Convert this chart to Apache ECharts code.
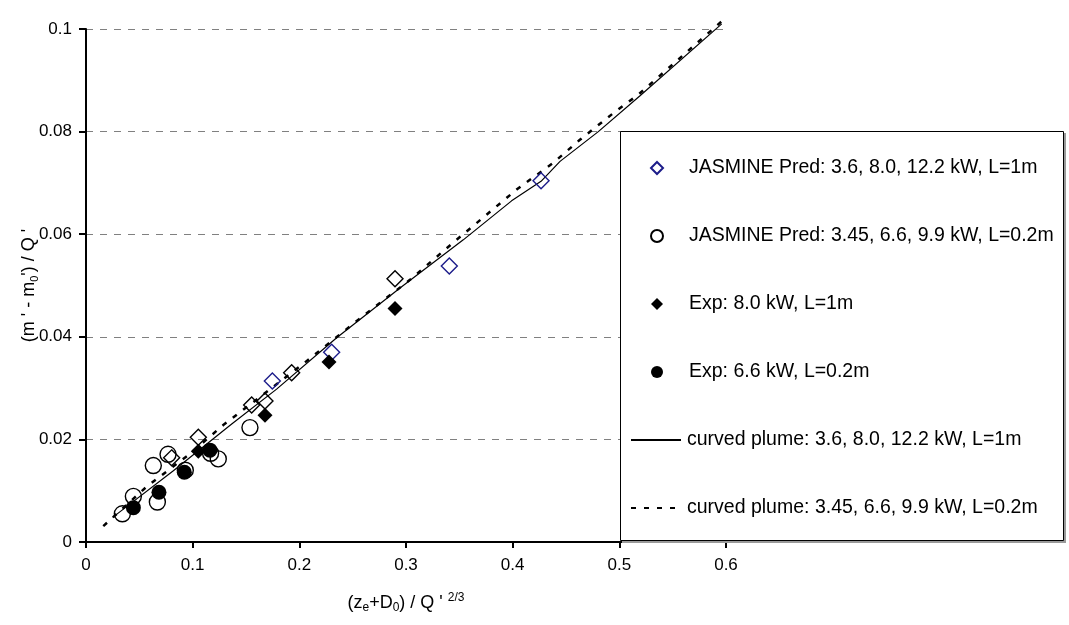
<!DOCTYPE html>
<html><head><meta charset="utf-8">
<script src="https://cdn.jsdelivr.net/npm/echarts@6/dist/echarts.min.js"></script>
<style>html,body{margin:0;padding:0;background:#fff}#c{width:1069px;height:625px}</style>
</head><body><div id="c"></div>
<script>
// ---- data ----
const legendNames = [
  'JASMINE Pred: 3.6, 8.0, 12.2 kW, L=1m',
  'JASMINE Pred: 3.45, 6.6, 9.9 kW, L=0.2m',
  'Exp: 8.0 kW, L=1m',
  'Exp: 6.6 kW, L=0.2m',
  'curved plume: 3.6, 8.0, 12.2 kW, L=1m',
  'curved plume: 3.45, 6.6, 9.9 kW, L=0.2m'
];
const jasmine1mBlue = [[0.1747,0.0314],[0.2303,0.0370],[0.3406,0.0538],[0.4266,0.0704]];
const jasmine1mBlack = [[0.0803,0.0164],[0.1053,0.0204],[0.1553,0.0267],[0.1678,0.0275],[0.1928,0.0330],[0.2897,0.0513]];
const jasmine02m = [[0.0341,0.0055],[0.0444,0.0089],[0.0669,0.0078],[0.0631,0.0149],[0.0769,0.0171],[0.0931,0.0140],[0.1168,0.0173],[0.1240,0.0162],[0.1537,0.0223]];
const exp1m = [[0.1053,0.0177],[0.1678,0.0247],[0.2278,0.0351],[0.2897,0.0455]];
const exp02m = [[0.0444,0.0067],[0.0684,0.0097],[0.0922,0.0136],[0.1162,0.0179]];
const plume1m = [[0.025,0.0048],[0.0819,0.0139],[0.1366,0.0230],[0.1787,0.0298],[0.2350,0.0398],[0.2944,0.0495],[0.3537,0.0589],[0.3990,0.0665],[0.4266,0.0703],[0.4444,0.0742],[0.4803,0.0800],[0.5194,0.0870],[0.5960,0.1010]];
const plume02m = [[0.0162,0.0031],[0.0569,0.0108],[0.0975,0.0172],[0.1287,0.0228],[0.2022,0.0345],[0.2569,0.0436],[0.3037,0.0511],[0.3428,0.0581],[0.4037,0.0687],[0.4380,0.0739],[0.4630,0.0784],[0.4944,0.0836],[0.5178,0.0872],[0.5960,0.1015]];
const xMin = 0, xMax = 0.6, xStep = 0.1;
const yMin = 0, yMax = 0.1, yStep = 0.02;

const FONT = 'Liberation Sans, Arial, sans-serif';
const chart = echarts.init(document.getElementById('c'), null, {renderer: 'canvas'});

const hollow = (color) => ({color: 'transparent', borderColor: color, borderWidth: 1.4, opacity: 1});
const legendText = {fontSize: 19.5, fontFamily: FONT, color: '#000', lineHeight: 20};

chart.setOption({
  animation: false,
  backgroundColor: '#fff',
  textStyle: {fontFamily: FONT},
  grid: {left: 86, top: 29, right: 343, bottom: 83, containLabel: false},
  xAxis: {
    type: 'value', min: xMin, max: xMax, interval: xStep,
    axisLine: {show: true, onZero: false, lineStyle: {color: '#000', width: 2}},
    axisTick: {show: true, inside: false, length: 6, lineStyle: {color: '#000', width: 2}},
    axisLabel: {color: '#000', fontSize: 17, fontFamily: FONT, margin: 15},
    splitLine: {show: false},
    name: '{n|(z}{s|e}{n|+D}{s|0}{n|) / Q \' }{p|2/3}',
    nameLocation: 'middle', nameGap: 50,
    nameTextStyle: {
      rich: {
        n: {fontSize: 18, fontFamily: FONT, color: '#000', lineHeight: 22},
        s: {fontSize: 12, fontFamily: FONT, color: '#000', lineHeight: 12, verticalAlign: 'bottom'},
        p: {fontSize: 12, fontFamily: FONT, color: '#000', lineHeight: 12, verticalAlign: 'top'}
      }
    }
  },
  yAxis: {
    type: 'value', min: yMin, max: yMax, interval: yStep,
    axisLine: {show: true, lineStyle: {color: '#000', width: 2}},
    axisTick: {show: true, inside: false, length: 7, lineStyle: {color: '#000', width: 2}},
    axisLabel: {color: '#000', fontSize: 17, fontFamily: FONT, margin: 14},
    splitLine: {show: true, lineStyle: {color: '#808080', width: 1, type: [7, 7]}},
    name: '{n|(m \' - m}{s|0}{n|\') / Q \'}',
    nameLocation: 'middle', nameGap: 46, nameRotate: 90, nameMoveOverlap: false,
    nameTextStyle: {
      rich: {
        n: {fontSize: 18, fontFamily: FONT, color: '#000', lineHeight: 22},
        s: {fontSize: 11, fontFamily: FONT, color: '#000', lineHeight: 11, verticalAlign: 'bottom'}
      }
    }
  },
  legend: [
    {
      show: true, data: legendNames.slice(0, 4), orient: 'vertical',
      left: 650, top: 158, z: 20,
      itemWidth: 12, itemHeight: 12, itemGap: 48, padding: 0,
      symbolKeepAspect: true,
      textStyle: Object.assign({padding: [0, 0, 0, 21]}, legendText),
      selectedMode: false
    },
    {
      show: true,
      data: legendNames.slice(4).map(n => ({name: n, itemStyle: {color: 'transparent', borderColor: 'transparent', borderWidth: 0, opacity: 0}})),
      orient: 'vertical',
      left: 630, top: 430, z: 20,
      itemWidth: 50, itemHeight: 12, itemGap: 48, padding: 0,
      textStyle: Object.assign({padding: [0, 0, 0, 1]}, legendText),
      selectedMode: false
    }
  ],
  graphic: [
    {type: 'rect', z: 10, shape: {x: 622, y: 133, width: 444, height: 410}, style: {fill: '#9a9a9a'}},
    {type: 'rect', z: 11, shape: {x: 620.5, y: 131.5, width: 443, height: 409}, style: {fill: '#fff', stroke: '#000', lineWidth: 1}}
  ],
  series: [
    {name: legendNames[5], type: 'line', data: plume02m, showSymbol: false, symbol: 'none', clip: false, z: 2,
     itemStyle: {color: '#000'},
     lineStyle: {color: '#000', width: 2.5, type: [5, 8]}},
    {name: legendNames[4], type: 'line', data: plume1m, showSymbol: false, symbol: 'none', clip: false, z: 3,
     itemStyle: {color: '#000'},
     lineStyle: {color: '#000', width: 1.2, type: 'solid'}},
    {name: legendNames[0], type: 'scatter', data: jasmine1mBlue, symbol: 'diamond', symbolSize: 16, z: 4,
     itemStyle: hollow('#1c1c8a')},
    {name: legendNames[0], type: 'scatter', data: jasmine1mBlack, symbol: 'diamond', symbolSize: 16, z: 4,
     itemStyle: hollow('#000')},
    {name: legendNames[1], type: 'scatter', data: jasmine02m, symbol: 'circle', symbolSize: 16, z: 4,
     itemStyle: hollow('#000')},
    {name: legendNames[2], type: 'scatter', data: exp1m, symbol: 'diamond', symbolSize: 15, z: 5,
     itemStyle: {color: '#000', opacity: 1}},
    {name: legendNames[3], type: 'scatter', data: exp02m, symbol: 'circle', symbolSize: 15, z: 5,
     itemStyle: {color: '#000', opacity: 1}}
  ]
});
</script></body></html>
